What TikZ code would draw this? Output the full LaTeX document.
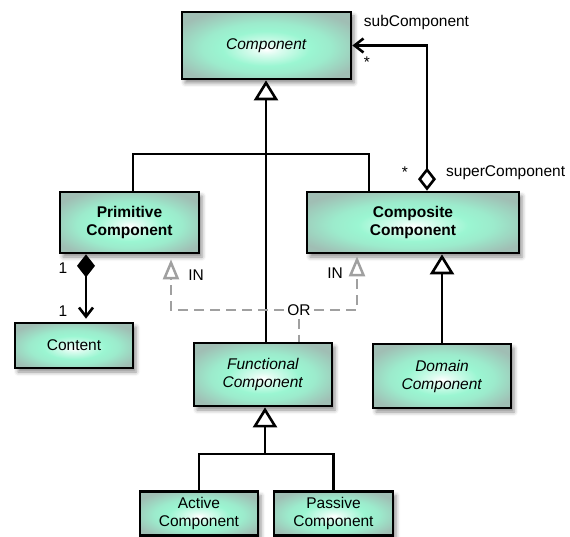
\documentclass[tikz,border=0pt]{standalone}
\usepackage{fontspec}
\setmainfont{Liberation Sans}
\usetikzlibrary{arrows.meta,shadows.blur,calc}
\definecolor{mint}{RGB}{155,246,210}
\definecolor{edgeteal}{RGB}{160,190,180}
\definecolor{dashgray}{RGB}{160,160,160}
\pgfdeclareradialshading{boxshade}{\pgfpoint{0bp}{-3bp}}{color(0bp)=(white);color(4bp)=(mint!35!white);color(13bp)=(mint);color(19bp)=(mint!80!edgeteal);color(30bp)=(edgeteal);color(50bp)=(edgeteal)}
\begin{document}
\begin{tikzpicture}[x=1pt,y=-1pt,
  box/.style={draw=black, line width=2.7pt, shade, shading=boxshade,
    blur shadow={shadow xshift=3pt, shadow yshift=-4pt, shadow blur radius=4pt, shadow opacity=45},
    align=center, inner sep=0pt, font=\fontsize{15.5}{18}\selectfont},
  lbl/.style={font=\fontsize{15.5}{18}\selectfont, inner sep=1pt},
  ln/.style={line width=2.6pt, draw=black},
  gen/.style={ln, -{Triangle[length=20pt,width=24pt,fill=white]}},
  dashgen/.style={line width=2.5pt, draw=dashgray, dash pattern=on 10pt off 6pt,
    -{Triangle[length=20pt,width=16pt,fill=white]}},
  dashln/.style={line width=2.5pt, draw=dashgray, dash pattern=on 10pt off 6pt}
]
\useasboundingbox (0,0) rectangle (570,537);

% nodes
\node[box, minimum width=169pt, minimum height=67pt] (comp) at (266.5,45.5) {\textit{Component}};
\node[box, minimum width=139pt, minimum height=61pt] (prim) at (129.5,222.5) {\textbf{Primitive}\\\textbf{Component}};
\node[box, minimum width=212pt, minimum height=61pt] (compo) at (413,222.5) {\textbf{Composite}\\\textbf{Component}};
\node[box, minimum width=118pt, minimum height=45pt] (content) at (74,345.5) {Content};
\node[box, minimum width=138pt, minimum height=63pt] (func) at (263,374.5) {\textit{Functional}\\\textit{Component}};
\node[box, minimum width=138pt, minimum height=64pt] (dom) at (442,376) {\textit{Domain}\\\textit{Component}};
\node[box, minimum width=118pt, minimum height=44pt] (act) at (199,513.5) {Active\\Component};
\node[box, minimum width=119pt, minimum height=44pt] (pas) at (333.5,513.5) {Passive\\Component};

% generalization to Component
\coordinate (j1) at (266,154);
\draw[gen] (j1 |- func.north) -- (j1 |- comp.south);
\draw[ln] ([xshift=3.5pt]prim.north) |- (j1) -| ([xshift=-44pt]compo.north);

% aggregation sub/super component
\draw[ln, {Diamond[length=23pt,width=18pt,fill=white]}-{Straight Barb[length=9pt,width=14pt]}]
  ([xshift=14pt]compo.north) |- (comp.east);
\node[lbl] (sub) at (416.5,22) {subComponent};
\node[lbl] (star1) at (367,62) {*};
\node[lbl] (star2) at (405,172) {*};
\node[lbl, anchor=west] (super) at (445,173) {superComponent};

% composition primitive -> content
\draw[ln, {Diamond[length=23pt,width=18pt]}-{Straight Barb[length=9pt,width=14pt]}, shorten >=3pt]
  ([xshift=-43.5pt]prim.south) -- ([xshift=12pt]content.north);
\node[lbl] (one1) at (63,268) {1};
\node[lbl] (one2) at (63,311) {1};

% domain -> composite
\draw[gen] (dom.north) -- (dom.north |- compo.south);

% functional -> active / passive
\coordinate (j2) at (265,454);
\draw[gen] (j2) -- (j2 |- func.south);
\draw[ln] (act.north) |- (j2) -| (pas.north);

% dashed OR
\node[lbl, inner sep=3pt] (or) at (299,310) {OR};
\draw[dashgen, shorten >=5pt] (or.west) -| ([xshift=41.5pt]prim.south);
\draw[dashgen, shorten >=2pt] (or.east) -| ([xshift=-56pt]compo.south);
\draw[dashln] (or.south) -- (or.south |- func.north);
\node[lbl] (in1) at (196,275) {IN};
\node[lbl] (in2) at (335,273) {IN};
\end{tikzpicture}
\end{document}
